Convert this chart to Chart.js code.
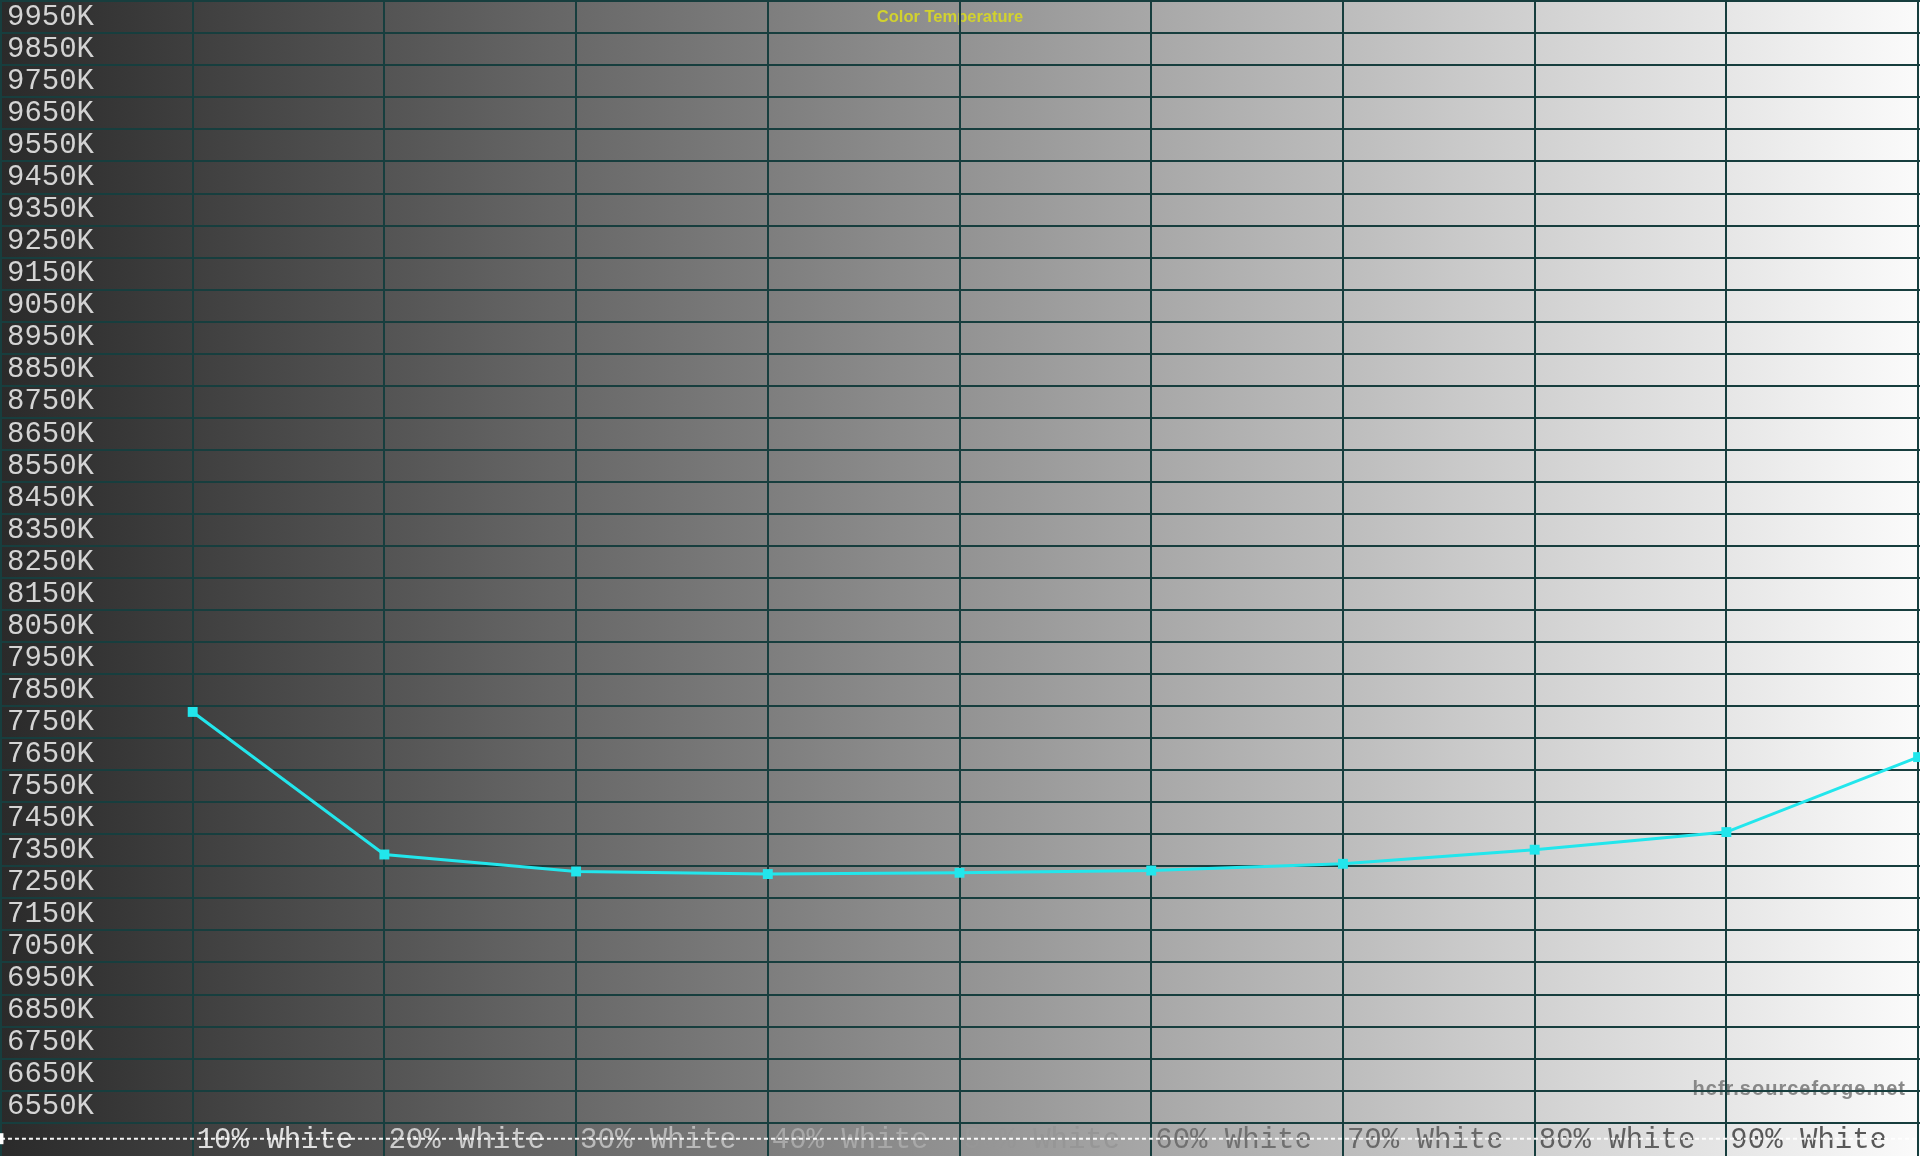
<!DOCTYPE html>
<html>
<head>
<meta charset="utf-8">
<script src="https://cdn.jsdelivr.net/npm/chart.js@4.4.1/dist/chart.umd.min.js"></script>
<style>
html,body{margin:0;padding:0;background:#2a2a2a;overflow:hidden}
canvas{display:block}
</style>
</head>
<body>
<canvas id="c" width="1920" height="1156"></canvas>
<script>
// ---- data ----
const stimulusPct = [10, 20, 30, 40, 50, 60, 70, 80, 90, 100];
const colorTempK  = [7832, 7387, 7334, 7326, 7330, 7337, 7358, 7402, 7457, 7691];
const referenceK  = 6500;

const xTickValues = [0, 10, 20, 30, 40, 50, 60, 70, 80, 90, 100];
const xTickLabels = ['', '10% White', '20% White', '30% White', '40% White', '50% White',
                     '60% White', '70% White', '80% White', '90% White', ''];

const yTickValues = [6550, 6650, 6750, 6850, 6950, 7050, 7150, 7250, 7350, 7450, 7550, 7650,
                     7750, 7850, 7950, 8050, 8150, 8250, 8350, 8450, 8550, 8650, 8750, 8850,
                     8950, 9050, 9150, 9250, 9350, 9450, 9550, 9650, 9750, 9850, 9950, 10050];
const yTickLabels = ['6550K', '6650K', '6750K', '6850K', '6950K', '7050K', '7150K', '7250K',
                     '7350K', '7450K', '7550K', '7650K', '7750K', '7850K', '7950K', '8050K',
                     '8150K', '8250K', '8350K', '8450K', '8550K', '8650K', '8750K', '8850K',
                     '8950K', '9050K', '9150K', '9250K', '9350K', '9450K', '9550K', '9650K',
                     '9750K', '9850K', '9950K', ''];

const chartTitle = 'Color Temperature';
const watermarkText = 'hcfr.sourceforge.net';

// ---- styles ----
const GRID = '#173e3e';
const CYAN = '#22e6ec';
const MONO = '"Courier New", "Liberation Mono", monospace';

const backgroundPlugin = {
  id: 'bgTitle',
  beforeDraw(chart) {
    const {ctx, chartArea: a} = chart;
    ctx.save();
    const g = ctx.createLinearGradient(a.left, 0, a.right, 0);
    g.addColorStop(0, '#2a2a2a');
    g.addColorStop(1, '#fbfbfb');
    ctx.fillStyle = g;
    ctx.fillRect(0, 0, chart.width, chart.height);

    ctx.font = 'bold 16.5px "Liberation Sans", Arial, sans-serif';
    ctx.fillStyle = '#d2d22e';
    ctx.textAlign = 'center';
    ctx.textBaseline = 'middle';
    ctx.fillText(chartTitle, chart.width / 2 - 10, 17);

    ctx.font = 'bold 20px "Liberation Sans", Arial, sans-serif';
    try { ctx.letterSpacing = '1px'; } catch (e) {}
    ctx.fillStyle = '#888888';
    ctx.textAlign = 'right';
    ctx.fillText(watermarkText, chart.width - 14, 1089);
    ctx.restore();
  }
};

function zeroFit(scale, isX) {
  if (isX) scale.height = 0; else scale.width = 0;
  scale.paddingLeft = scale.paddingRight = scale.paddingTop = scale.paddingBottom = 0;
}

// label grey: light on the dark half, dark on the light half
function xLabelGrey(f) {
  return f <= 0.5 ? Math.round(240 - 180 * f) : Math.round(112 - 80 * (f - 0.6));
}

new Chart(document.getElementById('c'), {
  type: 'line',
  data: {
    datasets: [
      {
        label: 'Color Temperature',
        data: stimulusPct.map((x, i) => ({x: x, y: colorTempK[i]})),
        borderColor: CYAN,
        backgroundColor: CYAN,
        borderWidth: 3,
        pointStyle: 'rect',
        pointRadius: 7,
        pointBorderWidth: 0,
        pointBackgroundColor: CYAN,
        tension: 0,
        clip: false
      },
      {
        label: 'Reference',
        data: [{x: 0, y: referenceK}, {x: 100, y: referenceK}],
        borderColor: 'rgba(255,255,255,0.95)',
        borderWidth: 2,
        borderDash: [4, 3],
        pointStyle: 'line',
        pointRotation: 90,
        pointRadius: [5.5, 0],
        pointBorderWidth: 5,
        pointBorderColor: '#ffffff',
        pointBackgroundColor: '#ffffff',
        tension: 0,
        clip: false
      }
    ]
  },
  options: {
    responsive: false,
    animation: false,
    layout: {padding: 0, autoPadding: false},
    plugins: {legend: {display: false}, tooltip: {enabled: false}, title: {display: false}},
    scales: {
      x: {
        type: 'linear',
        position: 'bottom',
        min: -0.05,
        max: 100.1,
        afterBuildTicks: s => { s.ticks = xTickValues.map(v => ({value: v})); },
        afterFit: s => zeroFit(s, true),
        border: {display: false},
        grid: {color: GRID, lineWidth: 2, drawTicks: false},
        ticks: {
          mirror: true,
          align: 'start',
          padding: 0,
          labelOffset: 4,
          autoSkip: false,
          maxRotation: 0,
          minRotation: 0,
          font: {family: MONO, size: 29, lineHeight: 1.1},
          color: ctx => {
            const g = xLabelGrey((ctx.tick ? ctx.tick.value : 0) / 100);
            return `rgb(${g},${g},${g})`;
          },
          callback: v => {
            const i = xTickValues.indexOf(v);
            return i >= 0 ? xTickLabels[i] : '';
          }
        }
      },
      y: {
        type: 'linear',
        position: 'left',
        min: 6446,
        max: 10054,
        afterBuildTicks: s => { s.ticks = yTickValues.map(v => ({value: v})); },
        afterFit: s => zeroFit(s, false),
        border: {display: false},
        grid: {color: GRID, lineWidth: 2, drawTicks: false},
        ticks: {
          mirror: true,
          padding: 7,
          labelOffset: -16,
          autoSkip: false,
          font: {family: MONO, size: 29, lineHeight: 1},
          color: '#d4d4d4',
          callback: v => {
            const i = yTickValues.indexOf(v);
            return i >= 0 ? yTickLabels[i] : '';
          }
        }
      }
    }
  },
  plugins: [backgroundPlugin]
});
</script>
</body>
</html>
